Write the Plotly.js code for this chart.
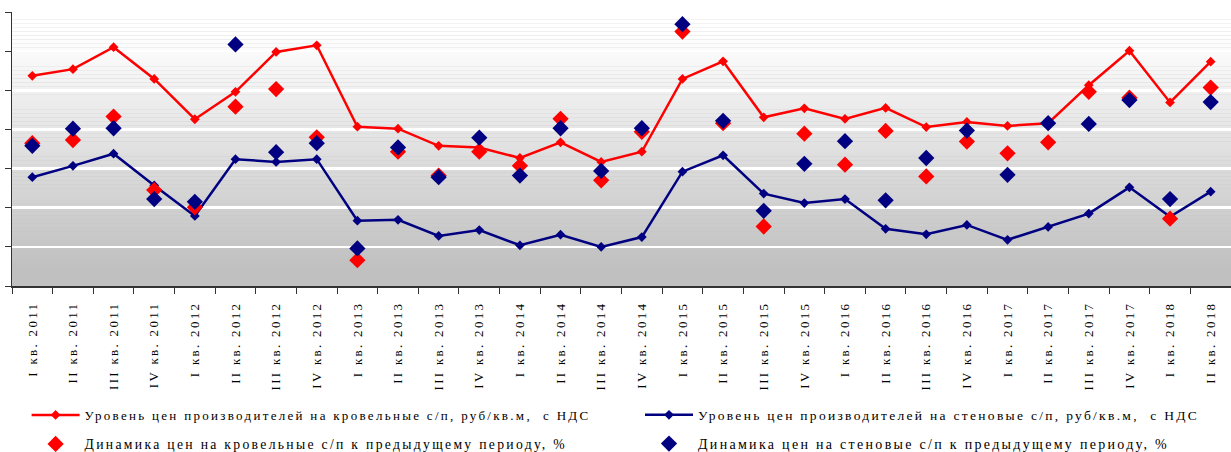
<!DOCTYPE html>
<html><head><meta charset="utf-8">
<script src="https://cdn.plot.ly/plotly-3.0.1.min.js"></script>
<style>
html,body{margin:0;padding:0;background:#fff;}
#chart{width:1231px;height:452px;}
svg text{letter-spacing:2.3px !important;}
</style></head><body><div id="chart"></div>
<script>
const quarters = [
  "I кв. 2011","II кв. 2011","III кв. 2011","IV кв. 2011",
  "I кв. 2012","II кв. 2012","III кв. 2012","IV кв. 2012",
  "I кв. 2013","II кв. 2013","III кв. 2013","IV кв. 2013",
  "I кв. 2014","II кв. 2014","III кв. 2014","IV кв. 2014",
  "I кв. 2015","II кв. 2015","III кв. 2015","IV кв. 2015",
  "I кв. 2016","II кв. 2016","III кв. 2016","IV кв. 2016",
  "I кв. 2017","II кв. 2017","III кв. 2017","IV кв. 2017",
  "I кв. 2018","II кв. 2018"
];
const roofPrice = [53.7,55.4,61.0,52.9,42.6,49.6,59.8,61.5,40.7,40.2,35.8,35.4,32.7,36.7,31.7,34.3,52.9,57.4,43.1,45.4,42.7,45.5,40.6,41.9,40.9,41.6,51.3,60.1,46.9,57.3];
const wallPrice = [27.8,30.7,33.8,25.7,17.9,32.4,31.7,32.4,16.7,16.9,12.8,14.3,10.4,13.1,10.0,12.5,29.2,33.4,23.6,21.2,22.2,14.6,13.2,15.6,11.8,15.1,18.5,25.2,17.7,24.1];
const roofChange = [36.5,37.3,43.3,24.5,20.1,45.8,50.3,38.0,6.6,34.3,28.2,34.3,30.7,42.7,27.0,39.4,65.0,41.6,15.2,38.9,31.0,39.6,28.0,36.9,33.9,36.7,49.6,48.1,17.2,50.7];
const wallChange = [35.8,40.2,40.3,22.2,21.5,61.7,34.2,36.5,9.6,35.4,27.8,37.9,28.2,40.3,29.4,40.3,66.9,42.2,19.2,31.2,37.0,21.9,32.7,39.7,28.4,41.6,41.4,47.5,22.2,47.0];
const seriesNames = [
  "Уровень цен производителей на кровельные с/п, руб/кв.м,  с НДС",
  "Уровень цен производителей на стеновые с/п, руб/кв.м,  с НДС",
  "Динамика цен на кровельные с/п к предыдущему периоду, %",
  "Динамика цен на стеновые с/п к предыдущему периоду, %"
];

const RED = "#ff0000", NAVY = "#000080";
const FONT = "Liberation Serif, Times New Roman, serif";

// background gradient bands
const shapes = [];
const NB = 70;
for (let k = 0; k < NB; k++) {
  const v0 = 70 * k / NB, v1 = 70 * (k + 1) / NB, vm = (v0 + v1) / 2;
  let t = (vm - 5) / (64 - 5);
  t = Math.max(0, Math.min(1, t));
  const g = Math.round(192 + 63 * t);
  shapes.push({type: "rect", xref: "paper", yref: "y", x0: 0, x1: 1, y0: v0, y1: v1,
    fillcolor: `rgb(${g},${g},${g})`, line: {width: 0}, layer: "below"});
}

const traces = [
  {x: quarters, y: roofPrice, name: seriesNames[0], type: "scatter", mode: "lines+markers",
   line: {color: RED, width: 2.5}, marker: {symbol: "diamond", size: 7.5, color: RED}, legend: "legend"},
  {x: quarters, y: wallPrice, name: seriesNames[1], type: "scatter", mode: "lines+markers",
   line: {color: NAVY, width: 2.5}, marker: {symbol: "diamond", size: 7.5, color: NAVY}, legend: "legend2"},
  {x: quarters, y: roofChange, name: seriesNames[2], type: "scatter", mode: "markers",
   marker: {symbol: "diamond", size: 12.5, color: RED}, legend: "legend3"},
  {x: quarters, y: wallChange, name: seriesNames[3], type: "scatter", mode: "markers",
   marker: {symbol: "diamond", size: 12.5, color: NAVY}, legend: "legend4"}
];

function leg(xpx, ypx, fs) {
  return {orientation: "h", xref: "container", yref: "container",
    xanchor: "left", yanchor: "middle", x: xpx / 1231, y: 1 - ypx / 452,
    itemwidth: 48, bgcolor: "rgba(0,0,0,0)", borderwidth: 0,
    font: {family: FONT, size: fs, color: "#000"}};
}

const layout = {
  width: 1231, height: 452,
  margin: {l: 12, r: 0, t: 12, b: 166, pad: 0},
  paper_bgcolor: "#ffffff", plot_bgcolor: "#c0c0c0",
  showlegend: true,
  shapes: shapes,
  xaxis: {type: "category", tickson: "boundaries", ticks: "outside", ticklen: 6, tickcolor: "#333",
    showline: true, linecolor: "#333", linewidth: 1.5, showgrid: false, tickangle: -90,
    ticklabelstandoff: 9, automargin: false,
    tickfont: {family: FONT, size: 13, color: "#000"}, range: [-0.5, 29.5], fixedrange: true},
  yaxis: {range: [0, 70], dtick: 10, tick0: 0, ticks: "outside", ticklen: 6, tickcolor: "#333",
    showline: true, linecolor: "#333", linewidth: 1.5, showticklabels: false, automargin: false,
    showgrid: true, gridcolor: "#ffffff", gridwidth: 2.5, zeroline: false, fixedrange: true},
  legend: leg(26.6, 415, 13),
  legend2: leg(640, 415, 13.5),
  legend3: leg(26.6, 444, 13.7),
  legend4: leg(640, 444, 14)
};

Plotly.newPlot("chart", traces, layout, {displayModeBar: false, staticPlot: true});
</script></body></html>
